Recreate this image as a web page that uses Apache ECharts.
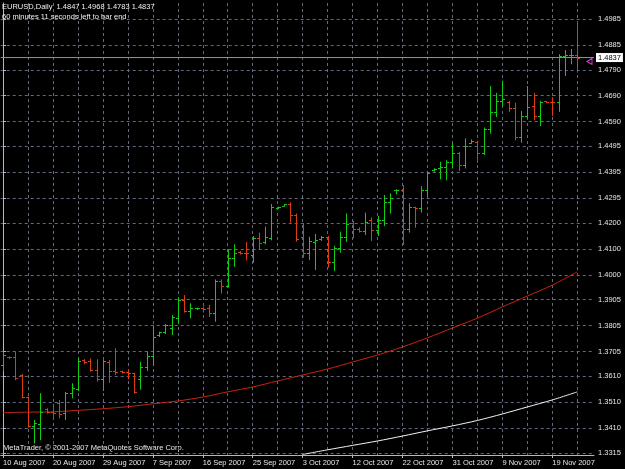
<!DOCTYPE html>
<html>
<head>
<meta charset="utf-8">
<script src="https://cdn.jsdelivr.net/npm/echarts@6.0.0/dist/echarts.min.js"></script>
<style>
  html, body { margin: 0; padding: 0; background: #000; }
  #chart { width: 625px; height: 469px; }
</style>
</head>
<body>
<div id="chart"></div>
<script>
// daily bars, EURUSD (broker has sunday bars)
const dates = [
  '10 Aug 2007','12 Aug 2007','13 Aug 2007','14 Aug 2007','15 Aug 2007','16 Aug 2007','17 Aug 2007','19 Aug 2007',
  '20 Aug 2007','21 Aug 2007','22 Aug 2007','23 Aug 2007','24 Aug 2007','26 Aug 2007','27 Aug 2007','28 Aug 2007',
  '29 Aug 2007','30 Aug 2007','31 Aug 2007','2 Sep 2007','3 Sep 2007','4 Sep 2007','5 Sep 2007','6 Sep 2007',
  '7 Sep 2007','9 Sep 2007','10 Sep 2007','11 Sep 2007','12 Sep 2007','13 Sep 2007','14 Sep 2007','15 Sep 2007',
  '16 Sep 2007','17 Sep 2007','18 Sep 2007','19 Sep 2007','20 Sep 2007','21 Sep 2007','23 Sep 2007','24 Sep 2007',
  '25 Sep 2007','26 Sep 2007','27 Sep 2007','28 Sep 2007','29 Sep 2007','30 Sep 2007','1 Oct 2007','2 Oct 2007',
  '3 Oct 2007','4 Oct 2007','5 Oct 2007','7 Oct 2007','8 Oct 2007','9 Oct 2007','10 Oct 2007','11 Oct 2007',
  '12 Oct 2007','14 Oct 2007','15 Oct 2007','16 Oct 2007','17 Oct 2007','18 Oct 2007','19 Oct 2007','21 Oct 2007',
  '22 Oct 2007','23 Oct 2007','24 Oct 2007','25 Oct 2007','26 Oct 2007','28 Oct 2007','29 Oct 2007','30 Oct 2007',
  '31 Oct 2007','1 Nov 2007','2 Nov 2007','4 Nov 2007','5 Nov 2007','6 Nov 2007','7 Nov 2007','8 Nov 2007',
  '9 Nov 2007','11 Nov 2007','12 Nov 2007','13 Nov 2007','14 Nov 2007','15 Nov 2007','16 Nov 2007','18 Nov 2007',
  '19 Nov 2007','20 Nov 2007','21 Nov 2007','22 Nov 2007','23 Nov 2007'
];

const openP = [
  1.3654,1.3684,1.3684,1.3615,1.3530,1.3419,1.3425,1.3483,1.3472,1.3506,1.3470,1.3547,1.3561,1.3673,1.3670,1.3634,
  1.3599,1.3666,1.3631,1.3630,1.3628,1.3622,1.3600,1.3645,1.3688,1.3769,1.3781,1.3796,1.3833,1.3904,1.3861,1.3871,
  1.3872,1.3872,1.3855,1.3978,1.3958,1.4064,1.4090,1.4086,1.4077,1.4143,1.4128,1.4141,1.4259,1.4267,1.4273,1.4231,
  1.4145,1.4086,1.4128,1.4137,1.4147,1.4051,1.4103,1.4147,1.4199,1.4176,1.4170,1.4212,1.4173,1.4212,1.4282,1.4327,
  1.4328,1.4176,1.4260,1.4257,1.4327,1.4404,1.4411,1.4414,1.4436,1.4468,1.4423,1.4509,1.4513,1.4471,1.4561,1.4628,
  1.4671,1.4667,1.4641,1.4530,1.4612,1.4650,1.4612,1.4669,1.4667,1.4666,1.4843,1.4847,1.4847
];
const highP = [
  1.3705,1.3686,1.3705,1.3619,1.3532,1.3442,1.3545,1.3487,1.3504,1.3519,1.3550,1.3583,1.3679,1.3676,1.3679,1.3676,
  1.3673,1.3673,1.3718,1.3632,1.3637,1.3624,1.3666,1.3705,1.3804,1.3782,1.3811,1.3846,1.3914,1.3923,1.3891,1.3874,
  1.3878,1.3885,1.3983,1.3983,1.4099,1.4118,1.4092,1.4127,1.4150,1.4163,1.4186,1.4273,1.4263,1.4273,1.4280,1.4237,
  1.4199,1.4147,1.4158,1.4150,1.4150,1.4112,1.4167,1.4237,1.4209,1.4183,1.4240,1.4222,1.4227,1.4308,1.4314,1.4330,
  1.4346,1.4276,1.4263,1.4342,1.4397,1.4411,1.4436,1.4442,1.4509,1.4474,1.4526,1.4522,1.4517,1.4568,1.4727,1.4701,
  1.4748,1.4671,1.4663,1.4631,1.4727,1.4701,1.4671,1.4670,1.4684,1.4850,1.4866,1.4870,1.4968
];
const lowP = [
  1.3634,1.3681,1.3599,1.3529,1.3416,1.3355,1.3368,1.3470,1.3455,1.3452,1.3445,1.3529,1.3557,1.3660,1.3632,1.3593,
  1.3557,1.3589,1.3619,1.3624,1.3602,1.3547,1.3562,1.3634,1.3654,1.3765,1.3777,1.3773,1.3816,1.3859,1.3837,1.3869,
  1.3859,1.3842,1.3824,1.3932,1.3955,1.4035,1.4083,1.4060,1.4051,1.4103,1.4122,1.4137,1.4258,1.4267,1.4205,1.4132,
  1.4070,1.4062,1.4023,1.4135,1.4032,1.4019,1.4090,1.4131,1.4145,1.4167,1.4158,1.4135,1.4154,1.4192,1.4240,1.4314,
  1.4119,1.4167,1.4186,1.4244,1.4304,1.4401,1.4372,1.4368,1.4414,1.4404,1.4414,1.4509,1.4436,1.4466,1.4548,1.4612,
  1.4658,1.4632,1.4522,1.4513,1.4607,1.4599,1.4577,1.4665,1.4616,1.4632,1.4770,1.4815,1.4783
];
const closeP = [
  1.3692,1.3683,1.3602,1.3532,1.3419,1.3429,1.3472,1.3474,1.3470,1.3465,1.3547,1.3564,1.3670,1.3666,1.3634,1.3599,
  1.3670,1.3631,1.3628,1.3627,1.3622,1.3551,1.3645,1.3688,1.3763,1.3779,1.3808,1.3840,1.3904,1.3863,1.3872,1.3872,
  1.3868,1.3853,1.3978,1.3958,1.4064,1.4086,1.4085,1.4083,1.4143,1.4122,1.4145,1.4260,1.4262,1.4272,1.4231,1.4137,
  1.4086,1.4131,1.4135,1.4147,1.4051,1.4103,1.4147,1.4196,1.4176,1.4170,1.4205,1.4173,1.4212,1.4282,1.4295,1.4329,
  1.4176,1.4260,1.4257,1.4327,1.4391,1.4409,1.4417,1.4436,1.4468,1.4423,1.4496,1.4517,1.4471,1.4561,1.4628,1.4671,
  1.4676,1.4641,1.4530,1.4612,1.4648,1.4612,1.4667,1.4666,1.4664,1.4843,1.4847,1.4848,1.4837
];

// moving averages, read every 4th bar
const maIdx = [0,4,8,12,16,20,24,28,32,36,40,44,48,52,56,60,64,68,72,76,80,84,88,92];
const redMA = [
  1.3470,1.3472,1.3473,1.3479,1.3485,1.3493,1.3504,1.3515,1.3530,1.3550,1.3569,1.3592,
  1.3615,1.3638,1.3665,1.3692,1.3723,1.3758,1.3796,1.3834,1.3877,1.3919,1.3961,1.4012
];
const whiteMA = [
  null,null,null,null,null,null,null,null,null,null,null,null,
  1.3309,1.3327,1.3344,1.3361,1.3380,1.3400,1.3419,1.3440,1.3465,1.3492,1.3519,1.3550
];

const xLabelIdx = [0,8,16,24,32,40,48,56,64,72,80,88];
const xGridIdx = [0,4,8,12,16,20,24,28,32,36,40,44,48,52,56,60,64,68,72,76,80,84,88,92];
const yTicks = ['1.3315','1.3410','1.3510','1.3610','1.3705','1.3805','1.3905','1.4000','1.4100',
  '1.4200','1.4295','1.4395','1.4495','1.4590','1.4690','1.4790','1.4885','1.4985'];
const lastPrice = 1.4837;

const X_MIN = -0.368, X_MAX = 94.672;
const FONT = '"Liberation Sans", Arial, sans-serif';
const upColor = '#12cc12';
const downColor = '#dc3c12';
const gridColor = '#5f6b7d';
const frameColor = '#b8b8b8';

const chart = echarts.init(document.getElementById('chart'));

function renderBar(params, api) {
  const i = api.value(0);
  const o = api.value(1), h = api.value(2), l = api.value(3), c = api.value(4);
  const x = Math.round(api.coord([i, h])[0]) + 0.5;
  const yh = api.coord([i, h])[1];
  const yl = api.coord([i, l])[1];
  const yo = Math.round(api.coord([i, o])[1]) + 0.5;
  const yc = Math.round(api.coord([i, c])[1]) + 0.5;
  const color = c >= o ? upColor : downColor;
  const st = { stroke: color, lineWidth: 1 };
  return {
    type: 'group',
    children: [
      { type: 'line', shape: { x1: x, y1: yh, x2: x, y2: yl + 1 }, style: st },
      { type: 'line', shape: { x1: x - 2.5, y1: yo, x2: x, y2: yo }, style: st },
      { type: 'line', shape: { x1: x, y1: yc, x2: x + 2.5, y2: yc }, style: st }
    ]
  };
}

const option = {
  backgroundColor: '#000000',
  animation: false,
  title: {
    left: 2, top: 2,
    text: 'EURUSD,Daily  1.4847 1.4968 1.4783 1.4837',
    subtext: '60 minutes 11 seconds left to bar end',
    itemGap: 1,
    padding: 0,
    textStyle: { color: '#f0f0f0', fontSize: 7.5, fontWeight: 'normal', fontFamily: FONT, lineHeight: 9 },
    subtextStyle: { color: '#f0f0f0', fontSize: 7.5, fontFamily: FONT, lineHeight: 9 }
  },
  graphic: [{
    type: 'text', left: 3, top: 444, silent: true,
    style: { text: 'MetaTrader, © 2001-2007 MetaQuotes Software Corp.', fill: '#e8e8e8', font: '7.5px ' + FONT }
  }],
  grid: { left: 0, right: 31, top: 3, bottom: 14 },
  xAxis: [{
    type: 'value', min: X_MIN, max: X_MAX,
    axisLine: { show: true, lineStyle: { color: frameColor } },
    axisTick: { show: true, length: 3, customValues: xLabelIdx, lineStyle: { color: frameColor } },
    axisLabel: {
      customValues: xLabelIdx, formatter: v => dates[v], align: 'left', margin: 4,
      color: '#e6e6e6', fontSize: 7.5, fontFamily: FONT
    },
    splitLine: { show: false }
  }, {
    type: 'value', min: X_MIN, max: X_MAX, position: 'bottom',
    axisLine: { show: false },
    axisTick: { show: false, customValues: xGridIdx },
    axisLabel: { show: false },
    splitLine: { show: true, lineStyle: { color: gridColor, type: [3, 3] } }
  }],
  yAxis: {
    type: 'value', position: 'right', min: 1.3307, max: 1.5047,
    axisLine: { show: true, lineStyle: { color: frameColor } },
    axisTick: { show: true, length: 3, customValues: yTicks.map(Number), lineStyle: { color: frameColor } },
    axisLabel: {
      customValues: yTicks.map(Number), formatter: v => v.toFixed(4), margin: 4,
      color: '#e6e6e6', fontSize: 7.5, fontFamily: FONT
    },
    splitLine: { show: true, lineStyle: { color: gridColor, type: [3, 3] } }
  },
  series: [{
    type: 'custom',
    name: 'EURUSD',
    renderItem: renderBar,
    encode: { x: 0, y: [1, 2, 3, 4] },
    data: dates.map((d, i) => [i, openP[i], highP[i], lowP[i], closeP[i]]),
    z: 3
  }, {
    type: 'line',
    name: 'MA red',
    data: maIdx.map((x, k) => [x, redMA[k]]),
    showSymbol: false, smooth: 0.3,
    lineStyle: { color: '#cc2210', width: 1 },
    z: 2
  }, {
    type: 'line',
    name: 'MA white',
    data: maIdx.map((x, k) => [x, whiteMA[k]]),
    showSymbol: false, smooth: 0.3,
    lineStyle: { color: '#f4f4f4', width: 1 },
    z: 2,
    markPoint: {
      silent: true, symbol: 'triangle', symbolRotate: 90, symbolSize: [6, 5],
      itemStyle: { color: 'rgba(0,0,0,0)', borderColor: '#e040e0', borderWidth: 1 },
      label: { show: false },
      data: [{ coord: [93.95, 1.4822] }]
    }
  }, {
    // last price line across the chart, with its price box on the scale
    type: 'line',
    name: 'Bid',
    data: [[X_MIN, lastPrice], [X_MAX, lastPrice]],
    showSymbol: false, silent: true,
    lineStyle: { color: '#8c94a6', width: 1 },
    endLabel: {
      show: true, distance: 2, formatter: p => p.value[1].toFixed(4),
      backgroundColor: '#ffffff', color: '#000000', padding: [1, 2, 0, 2],
      fontSize: 7.5, fontFamily: FONT
    },
    z: 1
  }]
};

chart.setOption(option);
</script>
</body>
</html>
